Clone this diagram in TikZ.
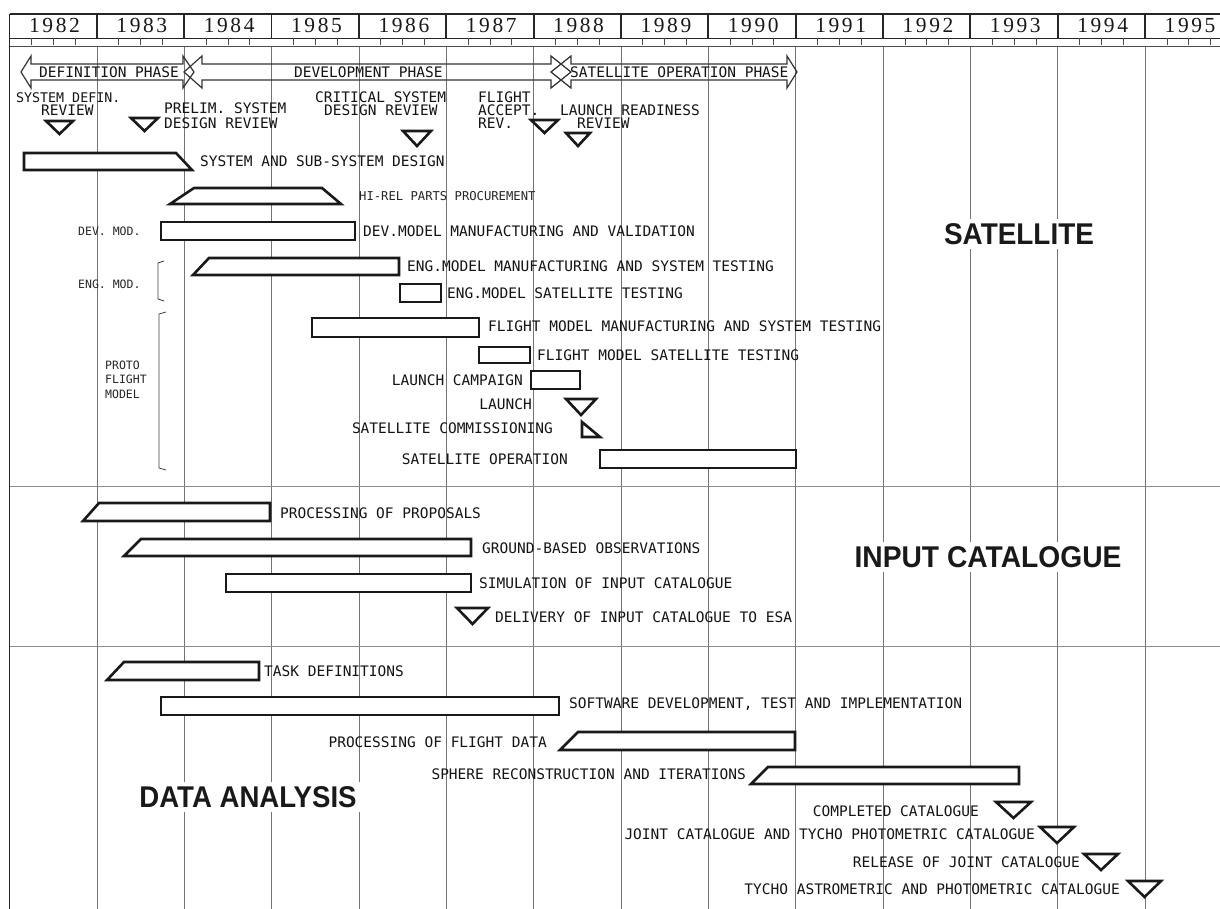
\documentclass[tikz,border=0pt]{standalone}
\usepackage{fontspec}
\usepackage{graphicx}
\newfontfamily\monof{DejaVu Sans Mono}
\newfontfamily\yearf[LetterSpace=12]{Liberation Serif}
\newfontfamily\headf{Liberation Sans}
\tikzset{
  bar/.style={draw=black!90,line width=2.6pt,fill=white,line join=miter},
  tri/.style={draw=black!90,line width=2.6pt,fill=white,line join=miter},
  phase/.style={draw=black!80,line width=1.2pt,line join=miter},
  hdr/.style={draw=black!85,line width=1.8pt},
  tick/.style={draw=black!70,line width=0.7pt},
  grid/.style={draw=black!55,line width=0.6pt},
  sep/.style={draw=black!45,line width=0.8pt},
  brk/.style={draw=black!75,line width=0.8pt},
  lbl/.style={font=\monof\fontsize{14.5}{16}\selectfont,inner sep=0pt,text=black!92},
  lw/.style={lbl,anchor=base west},
  le/.style={lbl,anchor=base east},
  sm/.style={font=\monof\fontsize{11.5}{13}\selectfont,inner sep=0pt,anchor=base west,text=black!85},
  year/.style={font=\yearf\fontsize{21.5}{24}\selectfont,inner sep=0pt,anchor=base,text=black!90},
  head/.style={font=\headf\bfseries\fontsize{30}{33}\selectfont,fill=white,inner sep=4pt,text=black!90},
}
\newcommand\LW[4]{\node[lw] (#1) at (#2,#3+5.3) {#4};}
\newcommand\LE[4]{\node[le] (#1) at (#2,#3+5.3) {#4};}
\newcommand\SW[4]{\node[sm] (#1) at (#2,#3+4.2) {#4};}
\newcommand\Tri[4]{\draw[tri] (#1,#3) -- (#2,#3) -- ({(#1+#2)/2},#4) -- cycle;}
\begin{document}
\begin{tikzpicture}[x=1pt,y=-1pt]
\useasboundingbox (0,0) rectangle (1220,909);
\clip (0,0) rectangle (1220,909);
\fill[white] (0,0) rectangle (1220,909);
% ---------- grid ----------
\foreach \i in {1,...,13} {
  \pgfmathsetmacro\xx{9.5+87.35*\i}
  \draw[grid] (\xx,46) -- (\xx,909);
}
\draw[draw=black!85,line width=1.3pt] (9.5,14) -- (9.5,909);
\draw[sep] (9.5,486) -- (1220,486);
\draw[sep] (9.5,646) -- (1220,646);
% ---------- header ----------
\draw[hdr] (9.5,14) -- (1230,14);
\draw[hdr] (9.5,38.5) -- (1230,38.5);
\draw[tick] (9.5,46) -- (1230,46);
\foreach \i/\yr in {0/1982,1/1983,2/1984,3/1985,4/1986,5/1987,6/1988,7/1989,8/1990,9/1991,10/1992,11/1993,12/1994,13/1995} {
  \pgfmathsetmacro\xl{9.5+87.35*\i}
  \draw[hdr] (\xl,14) -- (\xl,38.5);
  \node[year] (y\yr) at (\xl+45,33) {\yr};
  \foreach \q in {0.25,0.5,0.75} {
    \draw[tick] ({\xl+87.35*\q},38.5) -- ++(0,7);
  }
}
% ---------- phase arrows ----------
\draw[phase] (21,72) -- (31,56) -- (31,64) -- (183,64) -- (183,56) -- (194,72) -- (183,88) -- (183,80) -- (31,80) -- (31,88) -- cycle;
\draw[phase] (184,72) -- (202,56) -- (202,64) -- (551,64) -- (551,56) -- (571,72) -- (551,88) -- (551,80) -- (202,80) -- (202,88) -- cycle;
\draw[phase] (551,72) -- (571,56) -- (571,64) -- (787,64) -- (787,56) -- (797,72) -- (787,88) -- (787,80) -- (571,80) -- (571,88) -- cycle;
\LW{defph}{39}{72}{DEFINITION PHASE}
\LW{devph}{294}{72}{DEVELOPMENT PHASE}
\LW{satph}{570}{72}{SATELLITE OPERATION PHASE}
% ---------- milestones ----------
\node[lw,font=\monof\fontsize{13.3}{15}\selectfont] (sdr1) at (16,98+4.9) {SYSTEM DEFIN.};
\LW{sdr2}{41}{110}{REVIEW}
\LW{pdr1}{164}{108}{PRELIM. SYSTEM}
\LW{pdr2}{164}{123}{DESIGN REVIEW}
\LW{cdr1}{315}{97}{CRITICAL SYSTEM}
\LW{cdr2}{324}{110}{DESIGN REVIEW}
\LW{far1}{478}{97}{FLIGHT}
\LW{far2}{478}{110}{ACCEPT.}
\LW{far3}{478}{123}{REV.}
\LW{lrr1}{560}{110}{LAUNCH READINESS}
\LW{lrr2}{577}{123}{REVIEW}
\Tri{46}{73}{121}{134}
\Tri{131}{158}{118}{131}
\Tri{403}{431}{131}{146}
\Tri{531}{558}{120}{133}
\Tri{566}{590}{133}{146}
% ---------- satellite bars ----------
\draw[bar] (24,153) -- (176,153) -- (192,170) -- (24,170) -- cycle;
\LW{sys}{200}{161}{SYSTEM AND SUB-SYSTEM DESIGN}
\draw[bar] (194,188) -- (322,188) -- (341,204) -- (170,204) -- cycle;
\node[sm,font=\monof\fontsize{12.2}{14}\selectfont] (hirel) at (359,196+4.45) {HI-REL PARTS PROCUREMENT};
\draw[bar] (161,222) rectangle (355,240);
\LW{dev}{363}{231}{DEV.MODEL MANUFACTURING AND VALIDATION}
\SW{devmod}{78}{231}{DEV. MOD.}
\draw[bar] (209,258) -- (399,258) -- (399,275) -- (193,275) -- cycle;
\LW{eng}{407}{266}{ENG.MODEL MANUFACTURING AND SYSTEM TESTING}
\draw[bar] (400,284) rectangle (441,302);
\LW{engsat}{447}{293}{ENG.MODEL SATELLITE TESTING}
\SW{engmod}{78}{284}{ENG. MOD.}
\draw[brk] (164,261) -- (158,263) -- (158,299) -- (164,301);
\draw[bar] (312,318) rectangle (479,337);
\LW{fm}{488}{326}{FLIGHT MODEL MANUFACTURING AND SYSTEM TESTING}
\draw[bar] (479,347) rectangle (530,363);
\LW{fmsat}{537}{355}{FLIGHT MODEL SATELLITE TESTING}
\draw[bar] (531,371) rectangle (580,389);
\LE{lc}{523}{380}{LAUNCH CAMPAIGN}
\Tri{566}{596}{399}{415}
\LE{launch}{532}{404}{LAUNCH}
\draw[tri] (582,422) -- (582,437) -- (600,437) -- cycle;
\LE{comm}{553}{428}{SATELLITE COMMISSIONING}
\draw[bar] (600,450) rectangle (796,468);
\LE{ops}{568}{459}{SATELLITE OPERATION}
\SW{pfm1}{105}{365}{PROTO}
\SW{pfm2}{105}{379}{FLIGHT}
\SW{pfm3}{105}{394}{MODEL}
\draw[brk] (166,312) -- (159,314) -- (159,468) -- (166,470);
\node[head] (sat) at (1019,234) {\scalebox{0.93}[1]{SATELLITE}};
% ---------- input catalogue ----------
\draw[bar] (99,503) -- (270,503) -- (270,521) -- (83,521) -- cycle;
\LW{prop}{280}{513}{PROCESSING OF PROPOSALS}
\draw[bar] (141,539) -- (471,539) -- (471,556) -- (124,556) -- cycle;
\LW{gbo}{482}{548}{GROUND-BASED OBSERVATIONS}
\draw[bar] (226,574) rectangle (471,592);
\LW{sim}{479}{583}{SIMULATION OF INPUT CATALOGUE}
\Tri{457}{488}{608}{624}
\LW{deliv}{495}{617}{DELIVERY OF INPUT CATALOGUE TO ESA}
\node[head] (inp) at (988,557) {\scalebox{0.94}[1]{INPUT CATALOGUE}};
% ---------- data analysis ----------
\draw[bar] (124,662) -- (259,662) -- (259,680) -- (107,680) -- cycle;
\LW{task}{264}{671}{TASK DEFINITIONS}
\draw[bar] (161,697) rectangle (559,715);
\LW{sw}{569}{703}{SOFTWARE DEVELOPMENT, TEST AND IMPLEMENTATION}
\draw[bar] (578,732) -- (795,732) -- (795,750) -- (560,750) -- cycle;
\LE{pfd}{547}{742}{PROCESSING OF FLIGHT DATA}
\draw[bar] (768,767) -- (1019,767) -- (1019,784) -- (751,784) -- cycle;
\LE{sph}{746}{774}{SPHERE RECONSTRUCTION AND ITERATIONS}
\Tri{996}{1031}{802}{818}
\LE{cc}{979}{811}{COMPLETED CATALOGUE}
\Tri{1040}{1074}{827}{843}
\LE{jc}{1035}{834}{JOINT CATALOGUE AND TYCHO PHOTOMETRIC CATALOGUE}
\Tri{1084}{1118}{854}{870}
\LE{rj}{1080}{862}{RELEASE OF JOINT CATALOGUE}
\Tri{1128}{1161}{881}{897}
\LE{ty}{1120}{889}{TYCHO ASTROMETRIC AND PHOTOMETRIC CATALOGUE}
\node[head] (da) at (248,797) {\scalebox{0.92}[1]{DATA ANALYSIS}};
\end{tikzpicture}
\end{document}
